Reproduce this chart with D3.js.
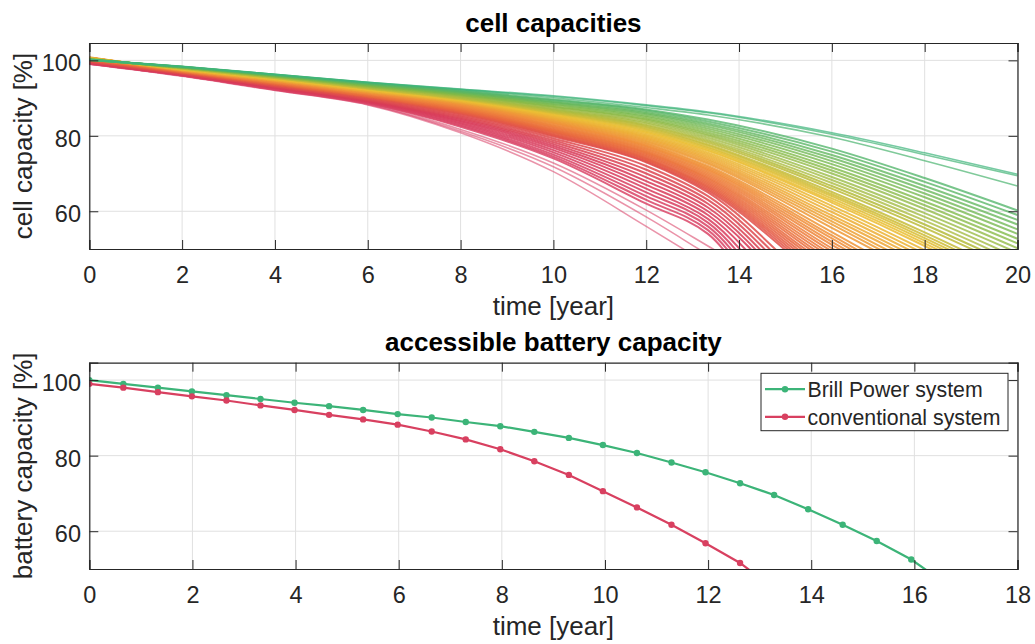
<!DOCTYPE html>
<html>
<head>
<meta charset="utf-8">
<script src="https://cdn.jsdelivr.net/npm/d3@7"></script>
<style>
  html, body { margin: 0; padding: 0; background: #fff; }
  svg { display: block; }
  text { font-family: "Liberation Sans", Arial, Helvetica, sans-serif; fill: #262626; }
</style>
</head>
<body>
<svg id="chart" width="1035" height="644"></svg>
<script>
// ---------------- DATA ----------------
const cellYears = [0, 2, 4, 6, 8, 10, 12, 13.33, 16, 18, 20];

// cell capacity curves [%] at cellYears, ordered from weakest (red) to strongest (green)
const cellCapacity = [
  // pink outliers
  [99.0, 95.8, 92.0, 88.2, 80.8, 70.5, 56.0, 46.0, 26.0, 12.0, 0],
  [99.0, 95.9, 92.1, 88.3, 81.2, 71.8, 58.5, 48.5, 29.0, 14.0, 0],
  [99.1, 95.9, 92.2, 88.4, 81.7, 72.8, 60.3, 50.8, 31.0, 16.0, 0],
  // red
  [99.1, 96.0, 92.3, 88.6, 82.4, 74.0, 62.0, 54.0, 8.0, 0, 0],
  [99.1, 96.0, 92.3, 88.7, 82.7, 74.5, 63.0, 55.0, 11.0, 0, 0],
  [99.2, 96.1, 92.4, 88.8, 83.0, 75.0, 64.0, 56.0, 14.0, 0, 0],
  [99.2, 96.1, 92.5, 88.9, 83.3, 75.6, 65.0, 57.0, 17.0, 0, 0],
  [99.3, 96.2, 92.6, 89.0, 83.6, 76.2, 66.0, 58.0, 20.0, 0, 0],
  [99.3, 96.2, 92.7, 89.1, 83.9, 76.8, 67.0, 59.0, 23.0, 0, 0],
  [99.4, 96.3, 92.8, 89.2, 84.2, 77.3, 68.0, 60.0, 26.0, 2.0, 0],
  [99.4, 96.3, 92.9, 89.3, 84.5, 77.8, 69.0, 61.0, 28.0, 5.0, 0],
  [99.5, 96.4, 93.0, 89.5, 84.8, 78.3, 70.0, 62.0, 30.0, 8.0, 0],
  [99.5, 96.4, 93.1, 89.6, 85.1, 78.8, 71.0, 63.0, 32.0, 11.0, 0],
  [99.6, 96.5, 93.2, 89.8, 85.4, 79.3, 72.0, 64.0, 34.0, 14.0, 0],
  [99.7, 96.6, 93.3, 90.0, 85.7, 79.8, 73.0, 65.0, 36.0, 17.0, 0],
  // orange
  [99.8, 96.7, 93.4, 90.1, 85.9, 80.1, 73.2, 65.5, 40.0, 25.0, 10.0],
  [99.9, 96.7, 93.5, 90.2, 86.1, 80.3, 73.5, 65.9, 40.9, 25.9, 10.9],
  [99.9, 96.8, 93.5, 90.3, 86.2, 80.5, 73.8, 66.3, 41.7, 26.8, 11.9],
  [100.0, 96.8, 93.6, 90.4, 86.4, 80.8, 74.0, 66.6, 42.6, 27.7, 12.8],
  [100.0, 96.9, 93.7, 90.5, 86.5, 81.0, 74.3, 67.0, 43.4, 28.6, 13.8],
  [100.1, 96.9, 93.8, 90.5, 86.7, 81.2, 74.6, 67.4, 44.3, 29.6, 14.7],
  [100.2, 96.9, 93.8, 90.6, 86.8, 81.4, 74.9, 67.8, 45.1, 30.5, 15.6],
  [100.2, 97.0, 93.9, 90.7, 87.0, 81.6, 75.2, 68.2, 46.0, 31.4, 16.6],
  [100.3, 97.0, 94.0, 90.8, 87.1, 81.8, 75.5, 68.6, 46.8, 32.3, 17.5],
  [100.3, 97.1, 94.0, 90.9, 87.3, 82.1, 75.7, 68.9, 47.7, 33.2, 18.5],
  [100.4, 97.1, 94.1, 91.0, 87.4, 82.3, 76.0, 69.3, 48.5, 34.1, 19.4],
  [100.4, 97.2, 94.2, 91.1, 87.6, 82.5, 76.3, 69.7, 49.4, 35.0, 20.4],
  [100.5, 97.2, 94.2, 91.2, 87.7, 82.7, 76.6, 70.1, 50.2, 35.9, 21.3],
  [100.6, 97.2, 94.3, 91.2, 87.9, 82.9, 76.9, 70.5, 51.1, 36.9, 22.2],
  [100.6, 97.3, 94.4, 91.3, 88.0, 83.2, 77.2, 70.9, 51.9, 37.8, 23.2],
  [100.7, 97.3, 94.5, 91.4, 88.2, 83.4, 77.4, 71.2, 52.8, 38.7, 24.1],
  [100.7, 97.4, 94.5, 91.5, 88.3, 83.6, 77.7, 71.6, 53.6, 39.6, 25.1],
  [100.8, 97.4, 94.6, 91.6, 88.5, 83.8, 78.0, 72.0, 54.5, 40.5, 26.0],
  // yellow
  [100.7, 97.4, 94.6, 91.6, 88.6, 84.0, 78.3, 72.6, 55.6, 42.6, 29.5],
  [100.7, 97.4, 94.7, 91.7, 88.7, 84.2, 78.6, 73.0, 56.5, 43.6, 30.6],
  [100.7, 97.5, 94.7, 91.8, 88.8, 84.4, 78.9, 73.45, 57.3, 44.6, 31.7],
  [100.6, 97.5, 94.8, 91.8, 88.9, 84.6, 79.2, 73.85, 58.15, 45.7, 32.8],
  [100.6, 97.5, 94.8, 91.9, 89.0, 84.7, 79.5, 74.3, 58.9, 46.7, 33.9],
  [100.6, 97.6, 94.9, 92.0, 89.1, 84.9, 79.8, 74.7, 59.8, 47.7, 35.0],
  [100.6, 97.6, 95.0, 92.1, 89.2, 85.1, 80.1, 75.15, 60.65, 48.7, 36.1],
  [100.6, 97.6, 95.0, 92.2, 89.3, 85.3, 80.4, 75.55, 61.45, 49.7, 37.15],
  [100.5, 97.7, 95.1, 92.2, 89.4, 85.5, 80.8, 76.0, 62.3, 50.8, 38.2],
  [100.5, 97.7, 95.1, 92.3, 89.5, 85.7, 81.1, 76.3, 62.8, 51.5, 39.1],
  [100.5, 97.7, 95.2, 92.4, 89.6, 85.9, 81.4, 76.7, 63.4, 52.2, 40.0],
  [100.5, 97.8, 95.3, 92.5, 89.7, 86.1, 81.7, 77.0, 64.0, 52.9, 40.9],
  [100.5, 97.8, 95.3, 92.6, 89.8, 86.2, 82.0, 77.4, 64.5, 53.6, 41.8],
  [100.4, 97.8, 95.4, 92.6, 89.9, 86.4, 82.3, 77.7, 65.1, 54.4, 42.7],
  [100.4, 97.9, 95.4, 92.7, 90.0, 86.6, 82.6, 78.2, 66.0, 55.6, 44.3],
  [100.4, 97.9, 95.5, 92.8, 90.1, 86.8, 82.9, 78.6, 66.7, 56.5, 45.3],
  // green
  [100.3, 98.0, 95.6, 92.9, 90.3, 87.0, 83.3, 79.0, 67.5, 57.5, 46.5],
  [100.3, 98.0, 95.65, 93.0, 90.5, 87.2, 83.6, 79.5, 68.3, 58.5, 47.7],
  [100.3, 98.1, 95.7, 93.1, 90.6, 87.5, 84.0, 80.0, 69.1, 59.5, 49.0],
  [100.2, 98.1, 95.75, 93.2, 90.8, 87.7, 84.3, 80.4, 70.0, 60.6, 50.2],
  [100.2, 98.1, 95.8, 93.3, 90.9, 87.9, 84.6, 80.9, 70.8, 61.6, 51.5],
  [100.2, 98.1, 95.85, 93.4, 91.1, 88.2, 85.0, 81.4, 71.6, 62.6, 52.7],
  [100.2, 98.2, 95.95, 93.5, 91.2, 88.4, 85.3, 81.9, 72.5, 63.7, 54.0],
  [100.2, 98.2, 96.0, 93.6, 91.4, 88.7, 85.7, 82.4, 73.3, 64.7, 55.2],
  [100.2, 98.2, 96.05, 93.7, 91.5, 88.9, 86.0, 82.9, 74.1, 65.7, 56.5],
  [100.1, 98.3, 96.1, 93.8, 91.7, 89.1, 86.3, 83.3, 74.9, 66.7, 57.7],
  [100.1, 98.3, 96.15, 93.9, 91.8, 89.4, 86.7, 83.8, 75.8, 67.8, 59.0],
  [100.1, 98.3, 96.2, 94.0, 92.0, 89.6, 87.0, 84.3, 76.6, 68.8, 60.2],
  // best cells
  [100.2, 98.3, 96.2, 94.1, 92.2, 90.1, 87.5, 85.5, 79.6, 73.4, 66.7],
  [100.2, 98.3, 96.3, 94.2, 92.3, 90.4, 88.0, 86.1, 80.4, 75.0, 69.4],
  [100.2, 98.4, 96.3, 94.2, 92.4, 90.6, 88.2, 86.3, 80.8, 75.5, 69.8]
];

const batteryYears = [0, 0.66, 1.33, 1.99, 2.66, 3.32, 3.98, 4.65, 5.31, 5.98, 6.64, 7.30, 7.97,
                      8.63, 9.30, 9.96, 10.62, 11.29, 11.95, 12.62, 13.28, 13.94, 14.61, 15.27, 15.94, 16.60];
const brillPower = [100.0, 99.0, 98.0, 97.0, 96.0, 95.0, 94.0, 93.1, 92.1, 91.0, 90.1, 88.9, 87.8,
                    86.3, 84.7, 82.8, 80.7, 78.2, 75.6, 72.7, 69.6, 65.8, 61.7, 57.4, 52.5, 46.2];
const conventional = [99.0, 98.0, 96.8, 95.7, 94.6, 93.3, 92.1, 90.8, 89.6, 88.2, 86.4, 84.3, 81.7,
                      78.5, 74.9, 70.6, 66.3, 61.7, 56.8, 51.6, 44.8];

const seriesNames = ["Brill Power system", "conventional system"];
const cellXTicks = [0, 2, 4, 6, 8, 10, 12, 14, 16, 18, 20];
const batteryXTicks = [0, 2, 4, 6, 8, 10, 12, 14, 16, 18];
const yTickValues = [60, 80, 100];

// ---------------- STYLE / LAYOUT ----------------
const AX = "#262626", GRID = "#e0e0e0";
const GREEN = "#3cb478", RED = "#d84060";
const L = 89.3, R = 1017.5;
const TICK_FS = 23.5, LABEL_FS = 26, TITLE_FS = 26, LEG_FS = 21.3;

const svg = d3.select("#chart");

function panel(cfg) {
  const x = d3.scaleLinear().domain(cfg.xDomain).range([L, R]);
  const y = d3.scaleLinear().domain([50, 104.6]).range([cfg.bottom, cfg.top]);
  const g = svg.append("g");

  g.append("g").selectAll("line").data(cfg.xTicks).join("line")
    .attr("x1", d => x(d)).attr("x2", d => x(d))
    .attr("y1", cfg.top).attr("y2", cfg.bottom)
    .attr("stroke", GRID).attr("stroke-width", 1);
  g.append("g").selectAll("line").data(yTickValues).join("line")
    .attr("x1", L).attr("x2", R)
    .attr("y1", d => y(d)).attr("y2", d => y(d))
    .attr("stroke", GRID).attr("stroke-width", 1);

  const id = "clip" + cfg.name;
  svg.append("defs").append("clipPath").attr("id", id)
    .append("rect").attr("x", L).attr("y", cfg.top)
    .attr("width", R - L).attr("height", cfg.bottom - cfg.top);
  const plot = g.append("g").attr("clip-path", `url(#${id})`);

  const bottomAxis = d3.axisBottom(x).tickValues(cfg.xTicks).tickSize(-9).tickPadding(17.3).tickFormat(d3.format("d"));
  const topAxis = d3.axisTop(x).tickValues(cfg.xTicks).tickSize(-9).tickFormat("");
  const leftAxis = d3.axisLeft(y).tickValues(yTickValues).tickSize(-9).tickPadding(8.3).tickFormat(d3.format("d"));
  const rightAxis = d3.axisRight(y).tickValues(yTickValues).tickSize(-9).tickFormat("");

  const axG = svg.append("g");
  const gb = axG.append("g").attr("transform", `translate(0,${cfg.bottom})`).call(bottomAxis);
  const gt = axG.append("g").attr("transform", `translate(0,${cfg.top})`).call(topAxis);
  const gl = axG.append("g").attr("transform", `translate(${L},0)`).call(leftAxis);
  const gr = axG.append("g").attr("transform", `translate(${R},0)`).call(rightAxis);
  [gb, gt, gl, gr].forEach(a => {
    a.select(".domain").attr("stroke", AX).attr("stroke-width", 1.2);
    a.selectAll(".tick line").attr("stroke", AX).attr("stroke-width", 1);
    a.selectAll("text").attr("fill", AX).style("font-size", TICK_FS + "px")
      .style("font-family", '"Liberation Sans", Arial, sans-serif');
  });
  gl.selectAll(".tick text").attr("dy", "0.45em");

  svg.append("text").attr("x", (L + R) / 2).attr("y", cfg.top - 11.3)
    .attr("text-anchor", "middle").style("font-size", TITLE_FS + "px").style("font-weight", "bold")
    .style("fill", "#000").text(cfg.title);
  svg.append("text").attr("x", (L + R) / 2).attr("y", cfg.bottom + 66)
    .attr("text-anchor", "middle").style("font-size", LABEL_FS + "px").text(cfg.xLabel);
  svg.append("text").attr("transform", `translate(32,${(cfg.top + cfg.bottom) / 2}) rotate(-90)`)
    .attr("text-anchor", "middle").style("font-size", LABEL_FS + "px").text(cfg.yLabel);

  return { x, y, plot, axG };
}

// ---------------- TOP: cell capacities ----------------
const topPanel = panel({
  name: "top", top: 43, bottom: 249, xDomain: [0, 20], xTicks: cellXTicks,
  title: "cell capacities", xLabel: "time [year]", yLabel: "cell capacity [%]"
});
const cellColor = d3.scaleLinear()
  .domain([0, 9, 20, 30, 42, 54, 63])
  .range(["#dc4d72", "#d83a58", "#e8663f", "#f08e3a", "#eabf33", "#7db847", "#3cb37b"])
  .interpolate(d3.interpolateRgb);
const cellLine = d3.line()
  .x((d, i) => topPanel.x(cellYears[i]))
  .y(d => topPanel.y(d))
  .curve(d3.curveMonotoneX);
const nCells = cellCapacity.length;
topPanel.plot.selectAll("path.cell").data(cellCapacity).join("path")
  .attr("class", "cell")
  .attr("d", cellLine)
  .attr("fill", "none")
  .attr("stroke", (d, i) => cellColor(i))
  .attr("stroke-width", (d, i) => (i < 3 || i >= nCells - 3) ? 1.6 : 2.0)
  .attr("stroke-opacity", (d, i) => (i < 3) ? 0.6 : (i >= nCells - 3 ? 0.7 : (i >= 49 ? 0.78 : 0.86)));

// ---------------- BOTTOM: accessible battery capacity ----------------
const botPanel = panel({
  name: "bot", top: 362.7, bottom: 569, xDomain: [0, 18], xTicks: batteryXTicks,
  title: "accessible battery capacity", xLabel: "time [year]", yLabel: "battery capacity [%]"
});
const series = [
  { name: seriesNames[0], values: brillPower, color: GREEN },
  { name: seriesNames[1], values: conventional, color: RED }
];
const bLine = d3.line().x((d, i) => botPanel.x(batteryYears[i])).y(d => botPanel.y(d));
series.forEach(s => {
  botPanel.plot.append("path").datum(s.values).attr("d", bLine)
    .attr("fill", "none").attr("stroke", s.color).attr("stroke-width", 2.2);
  botPanel.plot.selectAll(null).data(s.values).join("circle")
    .attr("cx", (d, i) => botPanel.x(batteryYears[i])).attr("cy", d => botPanel.y(d))
    .attr("r", 3.2).attr("fill", s.color);
});

// legend
const leg = svg.append("g");
leg.append("rect").attr("x", 761).attr("y", 373.3).attr("width", 247).attr("height", 57.4)
  .attr("fill", "#fff").attr("stroke", AX).attr("stroke-width", 1);
series.forEach((s, i) => {
  const cy = 389.2 + i * 27.6;
  leg.append("line").attr("x1", 765).attr("x2", 805).attr("y1", cy).attr("y2", cy)
    .attr("stroke", s.color).attr("stroke-width", 2.2);
  leg.append("circle").attr("cx", 785).attr("cy", cy).attr("r", 3.2).attr("fill", s.color);
  leg.append("text").attr("x", 807.5).attr("y", cy + 7.8)
    .style("font-size", LEG_FS + "px").text(s.name);
});
</script>
</body>
</html>
